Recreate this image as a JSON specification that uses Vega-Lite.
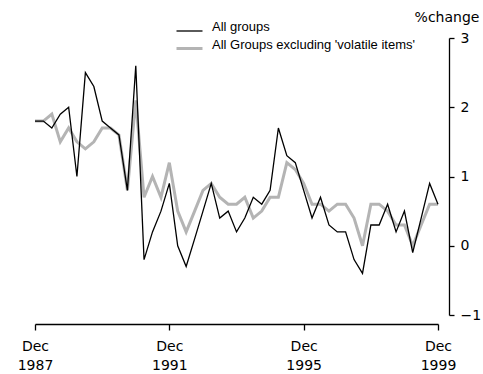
{
  "$schema": "https://vega.github.io/schema/vega-lite/v6.json",
  "autosize": "none",
  "width": 403,
  "height": 277,
  "padding": {"left": 35, "top": 38, "right": 45, "bottom": 59},
  "background": "white",
  "config": {
    "view": {"stroke": null},
    "font": "DejaVu Sans",
    "axis": {"labelFont": "DejaVu Sans", "titleFont": "DejaVu Sans", "labelColor": "black", "domainColor": "black", "tickColor": "black", "grid": false, "titleFontWeight": "normal", "titleColor": "black"}
  },
  "data": {
    "values": [
      {"date": "1987-12-01", "all": 1.8, "excl": 1.8},
      {"date": "1988-03-01", "all": 1.8, "excl": 1.8},
      {"date": "1988-06-01", "all": 1.7, "excl": 1.9},
      {"date": "1988-09-01", "all": 1.9, "excl": 1.5},
      {"date": "1988-12-01", "all": 2.0, "excl": 1.7},
      {"date": "1989-03-01", "all": 1.0, "excl": 1.5},
      {"date": "1989-06-01", "all": 2.5, "excl": 1.4},
      {"date": "1989-09-01", "all": 2.3, "excl": 1.5},
      {"date": "1989-12-01", "all": 1.8, "excl": 1.7},
      {"date": "1990-03-01", "all": 1.7, "excl": 1.7},
      {"date": "1990-06-01", "all": 1.6, "excl": 1.6},
      {"date": "1990-09-01", "all": 0.8, "excl": 0.8},
      {"date": "1990-12-01", "all": 2.6, "excl": 2.1},
      {"date": "1991-03-01", "all": -0.2, "excl": 0.7},
      {"date": "1991-06-01", "all": 0.2, "excl": 1.0},
      {"date": "1991-09-01", "all": 0.5, "excl": 0.7},
      {"date": "1991-12-01", "all": 0.9, "excl": 1.2},
      {"date": "1992-03-01", "all": 0.0, "excl": 0.5},
      {"date": "1992-06-01", "all": -0.3, "excl": 0.2},
      {"date": "1992-09-01", "all": 0.1, "excl": 0.5},
      {"date": "1992-12-01", "all": 0.5, "excl": 0.8},
      {"date": "1993-03-01", "all": 0.9, "excl": 0.9},
      {"date": "1993-06-01", "all": 0.4, "excl": 0.7},
      {"date": "1993-09-01", "all": 0.5, "excl": 0.6},
      {"date": "1993-12-01", "all": 0.2, "excl": 0.6},
      {"date": "1994-03-01", "all": 0.4, "excl": 0.7},
      {"date": "1994-06-01", "all": 0.7, "excl": 0.4},
      {"date": "1994-09-01", "all": 0.6, "excl": 0.5},
      {"date": "1994-12-01", "all": 0.8, "excl": 0.7},
      {"date": "1995-03-01", "all": 1.7, "excl": 0.7},
      {"date": "1995-06-01", "all": 1.3, "excl": 1.2},
      {"date": "1995-09-01", "all": 1.2, "excl": 1.1},
      {"date": "1995-12-01", "all": 0.8, "excl": 0.9},
      {"date": "1996-03-01", "all": 0.4, "excl": 0.6},
      {"date": "1996-06-01", "all": 0.7, "excl": 0.6},
      {"date": "1996-09-01", "all": 0.3, "excl": 0.5},
      {"date": "1996-12-01", "all": 0.2, "excl": 0.6},
      {"date": "1997-03-01", "all": 0.2, "excl": 0.6},
      {"date": "1997-06-01", "all": -0.2, "excl": 0.4},
      {"date": "1997-09-01", "all": -0.4, "excl": 0.0},
      {"date": "1997-12-01", "all": 0.3, "excl": 0.6},
      {"date": "1998-03-01", "all": 0.3, "excl": 0.6},
      {"date": "1998-06-01", "all": 0.6, "excl": 0.5},
      {"date": "1998-09-01", "all": 0.2, "excl": 0.3},
      {"date": "1998-12-01", "all": 0.5, "excl": 0.3},
      {"date": "1999-03-01", "all": -0.1, "excl": 0.0},
      {"date": "1999-06-01", "all": 0.4, "excl": 0.3},
      {"date": "1999-09-01", "all": 0.9, "excl": 0.6},
      {"date": "1999-12-01", "all": 0.6, "excl": 0.6}
    ]
  },
  "encoding": {
    "x": {
      "field": "date",
      "type": "temporal",
      "scale": {"type": "utc", "domain": ["1987-12-01", "1999-12-01"]},
      "axis": {
        "title": null,
        "values": ["1987-12-01", "1991-12-01", "1995-12-01", "1999-12-01"],
        "labelExpr": "['Dec', utcFormat(datum.value, '%Y')]",
        "labelFontSize": 14,
        "labelLineHeight": 19.5,
        "labelFlush": false,
        "labelOverlap": false,
        "labelAlign": "center",
        "offset": 9,
        "tickSize": 6,
        "labelPadding": 9,
        "domainWidth": 1.3,
        "tickWidth": 1.3
      }
    }
  },
  "layer": [
    {
      "mark": {"type": "line", "interpolate": "linear"},
      "encoding": {
        "y": {
          "field": "excl",
          "type": "quantitative",
          "scale": {"domain": [-1, 3], "nice": false},
          "axis": {
            "orient": "right",
            "title": "%change",
            "titleAngle": 0,
            "titleAlign": "center",
            "titleBaseline": "alphabetic",
            "titleX": -2.5,
            "titleY": -16.5,
            "titleFontSize": 14,
            "values": [-1, 0, 1, 2, 3],
            "format": "d",
            "labelFontSize": 14,
            "labelFlush": false,
            "offset": 11,
            "tickSize": 5,
            "labelPadding": 6,
            "domainWidth": 1.3,
            "tickWidth": 1.3
          }
        },
        "color": {"datum": "All Groups excluding 'volatile items'", "type": "nominal", "scale": {"domain": ["All groups", "All Groups excluding 'volatile items'"], "range": ["black", "#b4b4b4"]},
          "legend": {
            "title": null,
            "orient": "none",
            "legendX": 140,
            "legendY": -21,
            "labelFont": "Liberation Sans",
            "labelFontSize": 13,
            "labelColor": "black",
            "labelLimit": 400,
            "labelBaseline": "alphabetic",
            "symbolType": "stroke",
            "symbolSize": 676,
            "padding": 0,
            "rowPadding": -13.5,
            "labelOffset": 8
          }},
        "strokeWidth": {"datum": "All Groups excluding 'volatile items'", "type": "nominal", "scale": {"domain": ["All groups", "All Groups excluding 'volatile items'"], "range": [1.3, 3]}, "legend": null}
      }
    },
    {
      "mark": {"type": "line", "interpolate": "linear"},
      "encoding": {
        "y": {"field": "all", "type": "quantitative"},
        "color": {"datum": "All groups", "type": "nominal"},
        "strokeWidth": {"datum": "All groups", "type": "nominal"}
      }
    }
  ]
}
